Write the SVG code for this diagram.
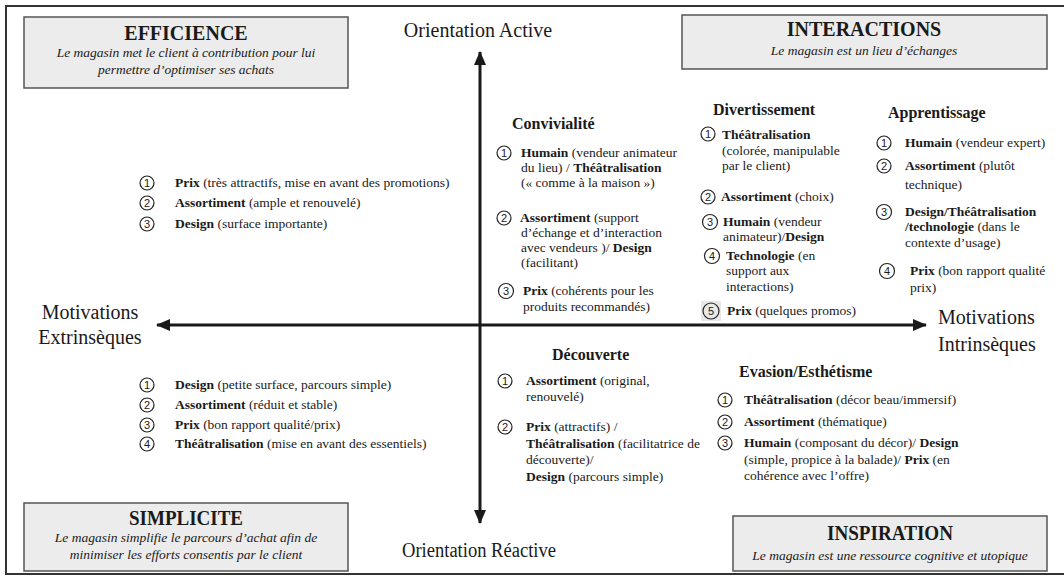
<svg xmlns="http://www.w3.org/2000/svg" width="1064" height="580" viewBox="0 0 1064 580">
<style>
text{font-family:"Liberation Serif","Times New Roman",serif;fill:#1a1a1a}
.it{font-size:13.5px}
.b{font-weight:bold}
.h{font-size:16px;font-weight:bold}
.ttl{font-size:20px;font-weight:bold;text-anchor:middle}
.sub{font-size:13.5px;font-style:italic;text-anchor:middle}
.ax{font-size:20px}
.box{fill:#ececec;stroke:#555;stroke-width:1.5}
.num circle{fill:none;stroke:#222;stroke-width:1.2}
.num text{font-family:"Liberation Sans",Arial,sans-serif;font-size:11px;text-anchor:middle}
.axis{stroke:#1a1a1a;stroke-width:3;fill:none}
</style>
<defs>
<marker id="ah" markerUnits="userSpaceOnUse" markerWidth="14" markerHeight="12" refX="13" refY="6" orient="auto">
<path d="M0,0 L14,6 L0,12 Z" fill="#1a1a1a"/>
</marker>
</defs>
<rect width="1064" height="580" fill="#fff"/>
<path d="M1064,6 H6 V574 H1064" fill="none" stroke="#333" stroke-width="2"/>

<g id="connectors">
<line class="axis" x1="480" y1="325" x2="480" y2="52" marker-end="url(#ah)"/>
<line class="axis" x1="480" y1="325" x2="480" y2="523" marker-end="url(#ah)"/>
<line class="axis" x1="480" y1="325" x2="157" y2="325" marker-end="url(#ah)"/>
<line class="axis" x1="480" y1="325" x2="926" y2="325" marker-end="url(#ah)"/>
</g>

<g id="efficience">
<rect class="box" x="24" y="17" width="324" height="71"/>
<text class="ttl" x="186" y="40">EFFICIENCE</text>
<text class="sub" x="186" y="57">Le magasin met le client à contribution pour lui</text>
<text class="sub" x="186" y="74">permettre d’optimiser ses achats</text>
</g>

<g id="interactions">
<rect class="box" x="682" y="15" width="365" height="54"/>
<text class="ttl" x="864" y="36">INTERACTIONS</text>
<text class="sub" x="864" y="55">Le magasin est un lieu d’échanges</text>
</g>

<g id="simplicite">
<rect class="box" x="24" y="503" width="324" height="68"/>
<text class="ttl" x="186" y="525" font-size="21" textLength="114" lengthAdjust="spacingAndGlyphs">SIMPLICITE</text>
<text class="sub" x="186" y="542">Le magasin simplifie le parcours d’achat afin de</text>
<text class="sub" x="186" y="559">minimiser les efforts consentis par le client</text>
</g>

<g id="inspiration">
<rect class="box" x="733" y="516" width="314" height="55"/>
<text class="ttl" x="890" y="540" font-size="21" textLength="126" lengthAdjust="spacingAndGlyphs">INSPIRATION</text>
<text class="sub" x="890" y="560">Le magasin est une ressource cognitive et utopique</text>
</g>

<g id="axis-labels">
<text class="ax" x="478" y="37" text-anchor="middle">Orientation Active</text>
<text class="ax" x="402" y="557" font-size="21" textLength="154" lengthAdjust="spacingAndGlyphs">Orientation Réactive</text>
<text class="ax" x="90" y="319" text-anchor="middle">Motivations</text>
<text class="ax" x="90" y="344" text-anchor="middle">Extrinsèques</text>
<text class="ax" x="938" y="324">Motivations</text>
<text class="ax" x="938" y="351">Intrinsèques</text>
</g>

<g id="efficience-items">
<g class="num"><circle cx="147" cy="183" r="7"/><text x="147" y="187">1</text></g>
<text class="it" x="175" y="187"><tspan class="b">Prix</tspan> (très attractifs, mise en avant des promotions)</text>
<g class="num"><circle cx="147" cy="203" r="7"/><text x="147" y="207">2</text></g>
<text class="it" x="175" y="207"><tspan class="b">Assortiment</tspan> (ample et renouvelé)</text>
<g class="num"><circle cx="147" cy="224" r="7"/><text x="147" y="228">3</text></g>
<text class="it" x="175" y="228"><tspan class="b">Design</tspan> (surface importante)</text>
</g>

<g id="convivialite">
<text class="h" x="512" y="129">Convivialité</text>
<g class="num"><circle cx="504" cy="153" r="7"/><text x="504" y="157">1</text></g>
<text class="it" x="521" y="157"><tspan class="b">Humain</tspan> (vendeur animateur</text>
<text class="it" x="521" y="172">du lieu) / <tspan class="b">Théâtralisation</tspan></text>
<text class="it" x="521" y="187">(« comme à la maison »)</text>
<g class="num"><circle cx="504" cy="218" r="7"/><text x="504" y="222">2</text></g>
<text class="it" x="520" y="222"><tspan class="b">Assortiment</tspan> (support</text>
<text class="it" x="521" y="237">d’échange et d’interaction</text>
<text class="it" x="521" y="252">avec vendeurs )/ <tspan class="b">Design</tspan></text>
<text class="it" x="521" y="267">(facilitant)</text>
<g class="num"><circle cx="506" cy="291" r="7.5"/><text x="506" y="295">3</text></g>
<text class="it" x="523" y="295"><tspan class="b">Prix</tspan> (cohérents pour les</text>
<text class="it" x="523" y="311">produits recommandés)</text>
</g>

<g id="divertissement">
<text class="h" x="713" y="115">Divertissement</text>
<g class="num"><circle cx="708" cy="134" r="7"/><text x="708" y="138">1</text></g>
<text class="it" x="722" y="139"><tspan class="b">Théâtralisation</tspan></text>
<text class="it" x="722" y="155">(colorée, manipulable</text>
<text class="it" x="722" y="170">par le client)</text>
<g class="num"><circle cx="708" cy="197" r="7"/><text x="708" y="201">2</text></g>
<text class="it" x="721" y="201"><tspan class="b">Assortiment</tspan> (choix)</text>
<g class="num"><circle cx="710" cy="222" r="7.5"/><text x="710" y="226">3</text></g>
<text class="it" x="723" y="226"><tspan class="b">Humain</tspan> (vendeur</text>
<text class="it" x="723" y="241">animateur)/<tspan class="b">Design</tspan></text>
<g class="num"><circle cx="712" cy="256" r="7.5"/><text x="712" y="260">4</text></g>
<text class="it" x="726" y="260"><tspan class="b">Technologie</tspan> (en</text>
<text class="it" x="726" y="275">support aux</text>
<text class="it" x="726" y="291">interactions)</text>
<rect x="701" y="301" width="20" height="20" fill="#e8e8e8"/>
<g class="num"><circle cx="711" cy="311" r="8"/><text x="711" y="315">5</text></g>
<text class="it" x="727" y="315"><tspan class="b">Prix</tspan> (quelques promos)</text>
</g>

<g id="apprentissage">
<text class="h" x="888" y="118">Apprentissage</text>
<g class="num"><circle cx="884" cy="143" r="7"/><text x="884" y="147">1</text></g>
<text class="it" x="905" y="147"><tspan class="b">Humain</tspan> (vendeur expert)</text>
<g class="num"><circle cx="884" cy="166" r="7"/><text x="884" y="170">2</text></g>
<text class="it" x="905" y="170"><tspan class="b">Assortiment</tspan> (plutôt</text>
<text class="it" x="905" y="189">technique)</text>
<g class="num"><circle cx="884" cy="212" r="7.5"/><text x="884" y="216">3</text></g>
<text class="it" x="905" y="216"><tspan class="b">Design/Théâtralisation</tspan></text>
<text class="it" x="905" y="231"><tspan class="b">/technologie</tspan> (dans le</text>
<text class="it" x="905" y="247">contexte d’usage)</text>
<g class="num"><circle cx="887" cy="271" r="7.5"/><text x="887" y="275">4</text></g>
<text class="it" x="910" y="275"><tspan class="b">Prix</tspan> (bon rapport qualité</text>
<text class="it" x="910" y="292">prix)</text>
</g>

<g id="simplicite-items">
<g class="num"><circle cx="147" cy="385" r="7"/><text x="147" y="389">1</text></g>
<text class="it" x="175" y="389"><tspan class="b">Design</tspan> (petite surface, parcours simple)</text>
<g class="num"><circle cx="147" cy="405" r="7"/><text x="147" y="409">2</text></g>
<text class="it" x="175" y="409"><tspan class="b">Assortiment</tspan> (réduit et stable)</text>
<g class="num"><circle cx="147" cy="425" r="7"/><text x="147" y="429">3</text></g>
<text class="it" x="175" y="429"><tspan class="b">Prix</tspan> (bon rapport qualité/prix)</text>
<g class="num"><circle cx="147" cy="444" r="7"/><text x="147" y="448">4</text></g>
<text class="it" x="175" y="448"><tspan class="b">Théâtralisation</tspan> (mise en avant des essentiels)</text>
</g>

<g id="decouverte">
<text class="h" x="552" y="360">Découverte</text>
<g class="num"><circle cx="505" cy="381" r="7"/><text x="505" y="385">1</text></g>
<text class="it" x="526" y="385"><tspan class="b">Assortiment</tspan> (original,</text>
<text class="it" x="526" y="401">renouvelé)</text>
<g class="num"><circle cx="505" cy="427" r="7"/><text x="505" y="431">2</text></g>
<text class="it" x="526" y="431"><tspan class="b">Prix</tspan> (attractifs) /</text>
<text class="it" x="526" y="448"><tspan class="b">Théâtralisation</tspan> (facilitatrice de</text>
<text class="it" x="526" y="464">découverte)/</text>
<text class="it" x="526" y="481"><tspan class="b">Design</tspan> (parcours simple)</text>
</g>

<g id="evasion">
<text class="h" x="739" y="377">Evasion/Esthétisme</text>
<g class="num"><circle cx="725" cy="400" r="7"/><text x="725" y="404">1</text></g>
<text class="it" x="744" y="404"><tspan class="b">Théâtralisation</tspan> (décor beau/immersif)</text>
<g class="num"><circle cx="725" cy="422" r="7"/><text x="725" y="426">2</text></g>
<text class="it" x="744" y="426"><tspan class="b">Assortiment</tspan> (thématique)</text>
<g class="num"><circle cx="725" cy="443" r="7"/><text x="725" y="447">3</text></g>
<text class="it" x="744" y="447"><tspan class="b">Humain</tspan> (composant du décor)/ <tspan class="b">Design</tspan></text>
<text class="it" x="744" y="464">(simple, propice à la balade)/ <tspan class="b">Prix</tspan> (en</text>
<text class="it" x="744" y="480">cohérence avec l’offre)</text>
</g>
</svg>
